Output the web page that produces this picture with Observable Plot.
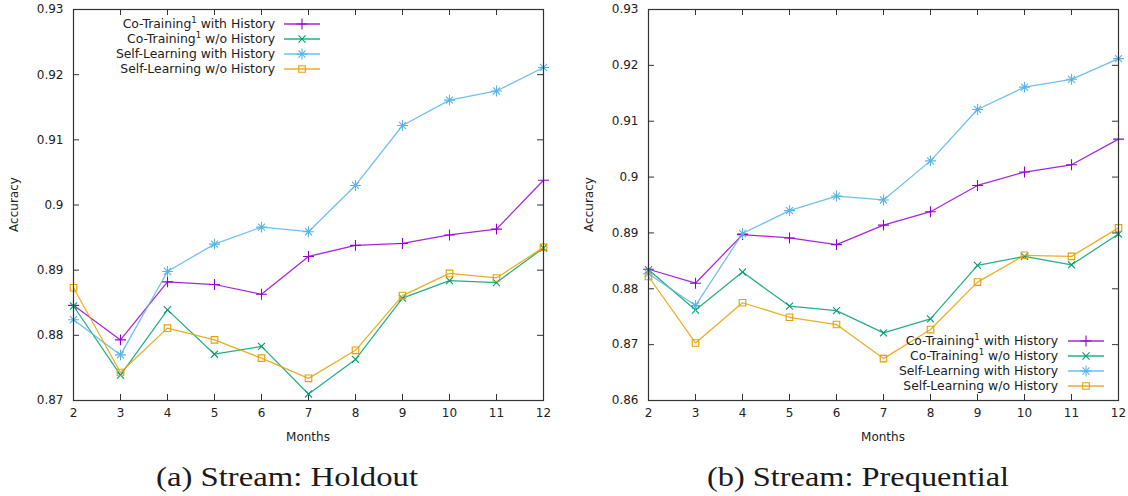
<!DOCTYPE html>
<html>
<head>
<meta charset="utf-8">
<script src="https://cdn.jsdelivr.net/npm/d3@7"></script>
<script src="https://cdn.jsdelivr.net/npm/@observablehq/plot@0.6"></script>
<style>
  html, body { margin: 0; padding: 0; background: #fff; }
  #wrap { display: flex; width: 1128px; height: 496px; overflow: hidden; }
  .panel { width: 564px; height: 496px; position: relative; }
  .panel svg { display: block; }
</style>
</head>
<body>
<div id="wrap"><div class="panel" id="pa"></div><div class="panel" id="pb"></div></div>
<script>
// ---- data ----
const months = [2, 3, 4, 5, 6, 7, 8, 9, 10, 11, 12];
const seriesNames = ["Co-Training1 with History", "Co-Training1 w/o History", "Self-Learning with History", "Self-Learning w/o History"];

// (a) Stream: Holdout
const holdoutCoHist   = [0.8846, 0.8793, 0.8882, 0.8878, 0.8863, 0.8921, 0.8938, 0.8941, 0.8954, 0.8963, 0.9038];
const holdoutCoNo     = [0.8845, 0.8739, 0.8839, 0.8771, 0.8783, 0.8710, 0.8763, 0.8857, 0.8884, 0.8881, 0.8934];
const holdoutSelfHist = [0.8824, 0.8770, 0.8898, 0.8940, 0.8966, 0.8959, 0.9030, 0.9122, 0.9161, 0.9175, 0.9211];
const holdoutSelfNo   = [0.8873, 0.8743, 0.8811, 0.8793, 0.8765, 0.8734, 0.8777, 0.8861, 0.8895, 0.8888, 0.8935];
const holdoutYTicks   = [0.87, 0.88, 0.89, 0.90, 0.91, 0.92, 0.93];
const holdoutYLabels  = ["0.87", "0.88", "0.89", "0.9", "0.91", "0.92", "0.93"];

// (b) Stream: Prequential
const preqCoHist   = [0.8835, 0.8810, 0.8897, 0.8891, 0.8879, 0.8914, 0.8938, 0.8985, 0.9009, 0.9022, 0.9068];
const preqCoNo     = [0.8834, 0.8762, 0.8830, 0.8769, 0.8761, 0.8721, 0.8746, 0.8842, 0.8858, 0.8843, 0.8898];
const preqSelfHist = [0.8827, 0.8770, 0.8899, 0.8940, 0.8966, 0.8959, 0.9029, 0.9121, 0.9161, 0.9175, 0.9212];
const preqSelfNo   = [0.8822, 0.8703, 0.8775, 0.8749, 0.8736, 0.8675, 0.8727, 0.8812, 0.8860, 0.8858, 0.8909];
const preqYTicks   = [0.86, 0.87, 0.88, 0.89, 0.90, 0.91, 0.92, 0.93];
const preqYLabels  = ["0.86", "0.87", "0.88", "0.89", "0.9", "0.91", "0.92", "0.93"];

const colors = ["#9400d3", "#009e73", "#56b4e9", "#e69f00"];
const symbolSets = [["plus"], ["times"], ["plus", "times"], ["square"]];
const symbolRadius = {plus: 3.6, times: 3.3, square: 3.7};
const d3Symbols = {plus: d3.symbolPlus, times: d3.symbolTimes, square: d3.symbolSquare};

const W = 564, H = 450, MT = 9, MB = 50;
const FONT = "'DejaVu Sans', Verdana, sans-serif";
const INK = "#222";

function makeChart(el, cfg) {
  const {values, yTicks, yLabels, ml, mr, legend, caption, captionX, captionLen} = cfg;
  const plotW = W - ml - mr, plotH = H - MT - MB;
  const tickLen = 6;
  const marks = [
    Plot.axisY({ticks: yTicks, tickSize: 0, tickPadding: 10, tickFormat: (d, i) => yLabels[i], label: null, fontSize: 12}),
    Plot.axisX({ticks: months, tickSize: 0, tickPadding: 8, tickFormat: d => String(d), label: null, fontSize: 12}),
    Plot.ruleX(months, {x: d => d, insetTop: plotH - tickLen, stroke: "#333"}),
    Plot.ruleX(months, {x: d => d, insetBottom: plotH - tickLen, stroke: "#333"}),
    Plot.ruleY(yTicks, {y: d => d, insetRight: plotW - tickLen, stroke: "#333"}),
    Plot.ruleY(yTicks, {y: d => d, insetLeft: plotW - tickLen, stroke: "#333"})
  ];
  values.forEach((vals, s) => {
    const rows = months.map((m, i) => ({month: m, acc: vals[i]}));
    marks.push(Plot.line(rows, {x: "month", y: "acc", stroke: colors[s], strokeWidth: 1.25, strokeOpacity: 0.85}));
    symbolSets[s].forEach(sym => {
      marks.push(Plot.dot(rows, {x: "month", y: "acc", symbol: sym, r: symbolRadius[sym], stroke: colors[s], fill: "none", strokeWidth: 1.1}));
    });
  });
  marks.push(Plot.frame({stroke: "#333", strokeWidth: 1.2}));

  const svg = Plot.plot({
    width: W, height: H,
    marginLeft: ml, marginRight: mr, marginTop: MT, marginBottom: MB,
    x: {domain: [2, 12]},
    y: {domain: [yTicks[0], yTicks[yTicks.length - 1]]},
    style: {fontFamily: FONT, fontSize: "12px", color: INK, background: "#fff", overflow: "visible"},
    marks
  });
  el.appendChild(svg);
  const g = d3.select(svg).append("g").attr("font-family", FONT).attr("fill", INK);

  // axis titles
  g.append("text").attr("x", ml + plotW / 2).attr("y", H - 9).attr("text-anchor", "middle").attr("font-size", 12).text("Months");
  g.append("text").attr("transform", `translate(${ml - 59},${MT + plotH / 2}) rotate(-90)`).attr("text-anchor", "middle").attr("dy", "0.35em").attr("font-size", 12).text("Accuracy");

  // legend
  seriesNames.forEach((name, s) => {
    const y = legend.y0 + s * 15;
    const t = g.append("text").attr("x", legend.textEnd).attr("y", y).attr("dy", "0.35em").attr("text-anchor", "end").attr("font-size", 12.4);
    if (name.includes("1 ")) {
      const [a, b] = name.split("1 ");
      t.append("tspan").text(a);
      t.append("tspan").attr("dy", -5).attr("font-size", 8.5).text("1");
      t.append("tspan").attr("dy", 5).text(" " + b);
    } else {
      t.text(name);
    }
    g.append("line").attr("x1", legend.lineX1).attr("x2", legend.lineX2).attr("y1", y).attr("y2", y)
      .attr("stroke", colors[s]).attr("stroke-width", 1.3).attr("stroke-opacity", 0.85);
    const cx = (legend.lineX1 + legend.lineX2) / 2;
    symbolSets[s].forEach(sym => {
      const r = symbolRadius[sym];
      g.append("path").attr("transform", `translate(${cx},${y})`)
        .attr("d", d3.symbol(d3Symbols[sym], Math.PI * r * r)())
        .attr("fill", "none").attr("stroke", colors[s]).attr("stroke-width", 1.1);
    });
  });

  // caption
  const cap = d3.select(el).append("svg").attr("width", W).attr("height", 496 - H);
  cap.append("text").attr("x", captionX).attr("y", 36).attr("text-anchor", "middle")
    .attr("font-family", "'Liberation Serif', 'Times New Roman', serif").attr("font-size", 27)
    .attr("fill", "#1a1a1a").attr("textLength", captionLen).attr("lengthAdjust", "spacingAndGlyphs")
    .text(caption);
}

makeChart(document.getElementById("pa"), {
  values: [holdoutCoHist, holdoutCoNo, holdoutSelfHist, holdoutSelfNo],
  yTicks: holdoutYTicks, yLabels: holdoutYLabels,
  ml: 73, mr: 21,
  legend: {y0: 24, textEnd: 275, lineX1: 284, lineX2: 320},
  caption: "(a) Stream: Holdout", captionX: 287, captionLen: 262
});
makeChart(document.getElementById("pb"), {
  values: [preqCoHist, preqCoNo, preqSelfHist, preqSelfNo],
  yTicks: preqYTicks, yLabels: preqYLabels,
  ml: 84, mr: 10,
  legend: {y0: 341, textEnd: 494, lineX1: 504, lineX2: 540},
  caption: "(b) Stream: Prequential", captionX: 294, captionLen: 302
});
</script>
</body>
</html>
